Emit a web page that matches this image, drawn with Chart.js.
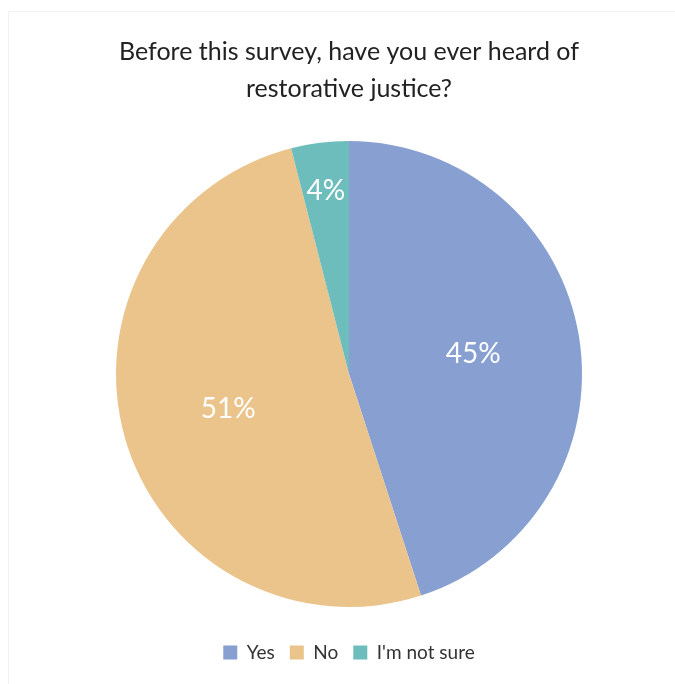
<!DOCTYPE html>
<html>
<head>
<meta charset="utf-8">
<script src="https://cdn.jsdelivr.net/npm/chart.js@4.4.0/dist/chart.umd.min.js"></script>
<style>
  html, body { margin: 0; padding: 0; background: #fff; }
  #wrap { position: relative; width: 675px; height: 684px; }
  #frame { position: absolute; left: 8px; top: 11px; right: 0; bottom: 0;
           border-top: 1px solid #f1f1f1; border-left: 1px solid #f1f1f1; }
  canvas { position: absolute; left: 0; top: 0; }
</style>
</head>
<body>
<div id="wrap">
  <div id="frame"></div>
  <canvas id="pieChart" width="675" height="684"></canvas>
</div>
<script>
var answers = ["Yes", "No", "I'm not sure"];
var shares = [45, 51, 4];
var sliceColors = ["#879fd1", "#ebc48c", "#6dbdbd"];
var chartTitle = ["Before this survey, have you ever heard of", "restorative justice?"];

var fontName = "Lato, 'Open Sans', sans-serif";

// white % labels inside each slice
var sliceLabels = {
  id: "sliceLabels",
  afterDatasetsDraw: function (chart) {
    var ctx = chart.ctx;
    var meta = chart.getDatasetMeta(0);
    ctx.save();
    ctx.fillStyle = "#ffffff";
    ctx.font = "28px " + fontName;
    ctx.textAlign = "center";
    ctx.textBaseline = "middle";
    meta.data.forEach(function (arc, i) {
      var mid = (arc.startAngle + arc.endAngle) / 2;
      var k = shares[i] < 10 ? 0.79 : 0.54;
      var x = arc.x + Math.cos(mid) * arc.outerRadius * k;
      var y = arc.y + Math.sin(mid) * arc.outerRadius * k;
      ctx.fillText(shares[i] + "%", x, y);
    });
    ctx.restore();
  }
};

var ctx = document.getElementById("pieChart").getContext("2d");
var myChart = new Chart(ctx, {
  type: "pie",
  data: {
    labels: answers,
    datasets: [{
      data: shares,
      backgroundColor: sliceColors,
      borderWidth: 0,
      radius: 233
    }]
  },
  options: {
    responsive: false,
    animation: false,
    layout: { padding: { top: 33, bottom: 12, left: 23, right: 0 } },
    plugins: {
      title: {
        display: true,
        text: chartTitle,
        color: "#222222",
        font: { family: fontName, size: 25, weight: "normal", lineHeight: 1.5 },
        padding: { top: 0, bottom: 12 }
      },
      legend: {
        position: "bottom",
        labels: {
          color: "#333333",
          font: { family: fontName, size: 19 },
          boxWidth: 14,
          boxHeight: 14,
          padding: 15
        }
      },
      tooltip: { enabled: false }
    }
  },
  plugins: [sliceLabels]
});
</script>
</body>
</html>
